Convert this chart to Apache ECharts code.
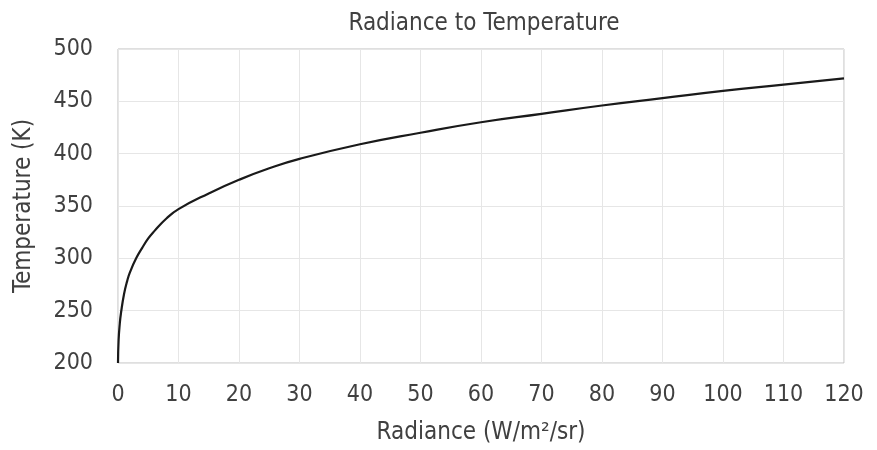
<!DOCTYPE html>
<html>
<head>
<meta charset="utf-8">
<script src="https://cdn.jsdelivr.net/npm/echarts@6/dist/echarts.min.js"></script>
<style>
  html, body { margin: 0; padding: 0; background: #fff; }
  #chart { width: 877px; height: 450px; }
</style>
</head>
<body>
<div id="chart"></div>
<script>
// radiance (W/m2/sr)
const radiance = [0, 0.1, 0.3, 0.5, 1, 1.5, 2, 3, 4, 5, 6, 8, 10, 15, 20, 25, 30, 40, 50, 60, 70, 80, 90, 100, 110, 120]
// temperature (K) at those radiances
const temperature = [200, 222, 238, 248, 266, 278, 287, 300, 310, 319, 326, 338, 347, 362, 375, 386, 395, 409, 420, 430, 438, 446, 453, 460, 466, 472]

const fontFamily = "'Liberation Sans Narrow', 'DejaVu Sans Condensed', 'Open Sans', sans-serif"
const textColor = '#404040'

const chart = echarts.init(document.getElementById('chart'))

const option = {
  animation: false,
  title: {
    text: 'Radiance to Temperature',
    left: 479,
    textAlign: 'center',
    top: 7,
    textStyle: { fontFamily, fontSize: 24, fontWeight: 'normal', color: textColor }
  },
  grid: {
    left: 118,
    top: 49,
    right: 33,
    bottom: 87,
    show: true,
    borderColor: '#bfbfbf',
    borderWidth: 1
  },
  xAxis: {
    type: 'value',
    min: 0,
    max: 120,
    interval: 10,
    name: 'Radiance (W/m²/sr)',
    nameLocation: 'middle',
    nameGap: 58,
    nameTextStyle: { fontFamily, fontSize: 24, color: textColor },
    axisLine: { show: false },
    axisTick: { show: false },
    axisLabel: { fontFamily, fontSize: 23, color: textColor, margin: 21 },
    splitLine: { show: true, lineStyle: { color: '#e6e6e6', width: 1 } }
  },
  yAxis: {
    type: 'value',
    min: 200,
    max: 500,
    interval: 50,
    name: 'Temperature (K)',
    nameLocation: 'middle',
    nameGap: 82,
    nameRotate: 90,
    nameTextStyle: { fontFamily, fontSize: 24, color: textColor },
    axisLine: { show: false },
    axisTick: { show: false },
    axisLabel: { fontFamily, fontSize: 23, color: textColor, margin: 25 },
    splitLine: { show: true, lineStyle: { color: '#e6e6e6', width: 1 } }
  },
  series: [
    {
      type: 'line',
      data: radiance.map((r, i) => [r, temperature[i]]),
      smooth: 0.5,
      symbol: 'none',
      lineStyle: { color: '#1a1a1a', width: 2.2 }
    }
  ]
}

chart.setOption(option)
</script>
</body>
</html>
